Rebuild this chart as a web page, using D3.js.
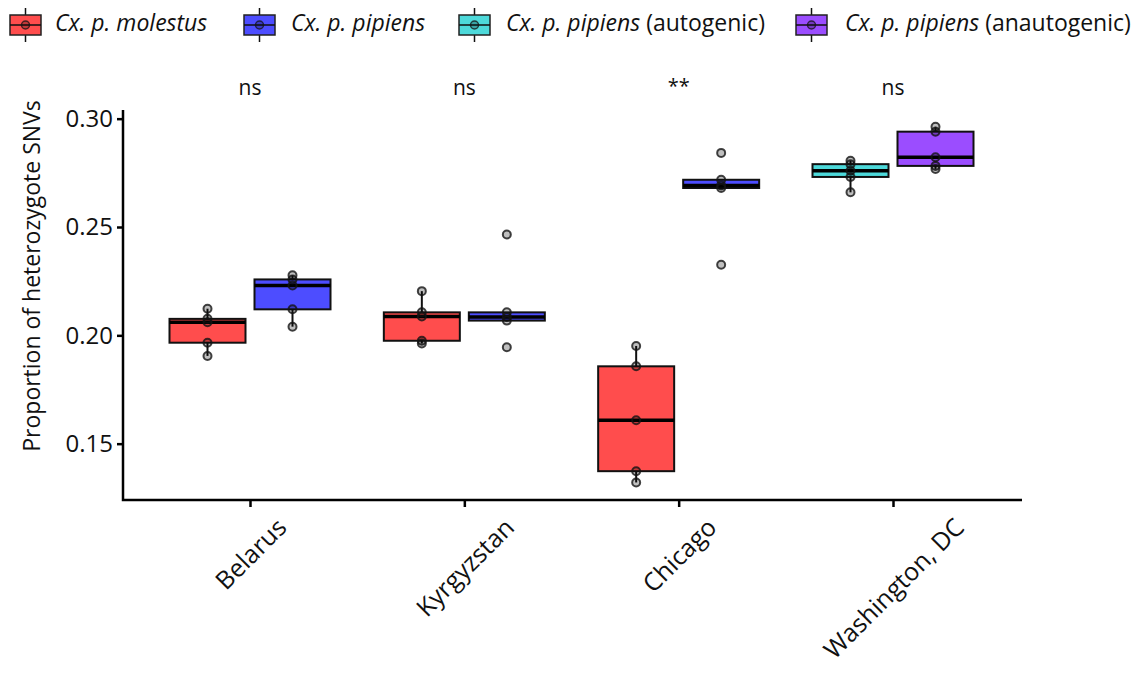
<!DOCTYPE html>
<html>
<head>
<meta charset="utf-8">
<script src="https://cdn.jsdelivr.net/npm/d3@7"></script>
<style>
  body { margin: 0; background: #fff; }
  svg { display: block; font-family: "Open Sans", sans-serif; }
</style>
</head>
<body>
<svg id="chart" width="1138" height="673"></svg>
<script>
// ---- data ----
const categories = ["Belarus", "Kyrgyzstan", "Chicago", "Washington, DC"];
const significance = ["ns", "ns", "**", "ns"];
const yTicks = [0.15, 0.20, 0.25, 0.30];

const belarusMolestus       = [0.2123, 0.2076, 0.2060, 0.1966, 0.1905];
const belarusPipiens        = [0.2277, 0.2258, 0.2230, 0.2120, 0.2040];
const kyrgyzstanMolestus    = [0.2204, 0.2106, 0.2087, 0.1975, 0.1962];
const kyrgyzstanPipiens     = [0.2465, 0.2106, 0.2085, 0.2068, 0.1945];
const chicagoMolestus       = [0.1951, 0.1857, 0.1608, 0.1373, 0.1321];
const chicagoPipiens        = [0.2842, 0.2718, 0.2692, 0.2680, 0.2326];
const washingtonAutogenic   = [0.2806, 0.2790, 0.2760, 0.2731, 0.2660];
const washingtonAnautogenic = [0.2963, 0.2940, 0.2822, 0.2782, 0.2768];

const legendItems = [
  { italic: "Cx. p. molestus", plain: "", color: "#FF4D4D" },
  { italic: "Cx. p. pipiens", plain: "", color: "#4D4DFF" },
  { italic: "Cx. p. pipiens", plain: " (autogenic)", color: "#4DD9DA" },
  { italic: "Cx. p. pipiens", plain: " (anautogenic)", color: "#9B4DFF" }
];

// boxes: category, side (-1 left / +1 right), values, legend index
const boxes = [
  { cat: "Belarus", side: -1, values: belarusMolestus, group: 0 },
  { cat: "Belarus", side: 1, values: belarusPipiens, group: 1 },
  { cat: "Kyrgyzstan", side: -1, values: kyrgyzstanMolestus, group: 0 },
  { cat: "Kyrgyzstan", side: 1, values: kyrgyzstanPipiens, group: 1 },
  { cat: "Chicago", side: -1, values: chicagoMolestus, group: 0 },
  { cat: "Chicago", side: 1, values: chicagoPipiens, group: 1 },
  { cat: "Washington, DC", side: -1, values: washingtonAutogenic, group: 2 },
  { cat: "Washington, DC", side: 1, values: washingtonAnautogenic, group: 3 }
];

// ---- layout ----
const svg = d3.select("#chart");
const axisLeftX = 123, axisBottomY = 500, axisTopY = 110, axisRightX = 1022;
const x = d3.scalePoint().domain(categories).range([250, 893]);
const y = d3.scaleLinear().domain([0.124, 0.304]).range([axisBottomY, axisTopY]);
const dodge = 42.5, boxW = 76;

// stats
boxes.forEach(b => {
  const s = b.values.slice().sort(d3.ascending);
  b.q1 = d3.quantile(s, 0.25);
  b.med = d3.quantile(s, 0.5);
  b.q3 = d3.quantile(s, 0.75);
  const iqr = b.q3 - b.q1;
  b.lo = d3.min(s.filter(v => v >= b.q1 - 1.5 * iqr));
  b.hi = d3.max(s.filter(v => v <= b.q3 + 1.5 * iqr));
  b.cx = x(b.cat) + b.side * dodge;
});

// ---- axes ----
const yAxis = svg.append("g")
  .attr("transform", `translate(${axisLeftX},0)`)
  .call(d3.axisLeft(y).tickValues(yTicks).tickFormat(d3.format(".2f")).tickSize(6).tickPadding(4));
yAxis.select(".domain").remove();
yAxis.selectAll(".tick line").attr("stroke", "#000").attr("stroke-width", 2.5);
yAxis.selectAll(".tick text").attr("font-size", 24).attr("fill", "#111").attr("font-family", "Open Sans");

const xAxis = svg.append("g")
  .attr("transform", `translate(0,${axisBottomY})`)
  .call(d3.axisBottom(x).tickSize(7).tickFormat(""));
xAxis.select(".domain").remove();
xAxis.selectAll(".tick line").attr("stroke", "#000").attr("stroke-width", 2.5);

// axis lines
svg.append("path")
  .attr("d", `M${axisLeftX},${axisTopY}V${axisBottomY}H${axisRightX}`)
  .attr("fill", "none").attr("stroke", "#000").attr("stroke-width", 2.5);

// x labels rotated: bounding box centred under tick, top aligned below axis
const labelTop = axisBottomY + 10;
const xl = svg.append("g").selectAll("g").data(categories).join("g");
xl.append("text")
  .attr("transform", "rotate(-45)")
  .attr("text-anchor", "middle")
  .attr("dy", "0.35em")
  .attr("font-size", 25)
  .attr("fill", "#111")
  .text(d => d);
xl.each(function(d) {
  const bb = this.getBBox();
  const tx = x(d) - (bb.x + bb.width / 2);
  const ty = labelTop - bb.y;
  d3.select(this).attr("transform", `translate(${tx},${ty})`);
});

// y title
svg.append("text")
  .attr("transform", `translate(40,276) rotate(-90)`)
  .attr("text-anchor", "middle")
  .attr("font-size", 23)
  .attr("fill", "#111")
  .text("Proportion of heterozygote SNVs");

// significance labels
svg.append("g").selectAll("text").data(categories).join("text")
  .attr("x", d => x(d))
  .attr("y", (d, i) => significance[i] === "**" ? 93 : 95)
  .attr("text-anchor", "middle")
  .attr("font-size", (d, i) => significance[i] === "**" ? 20 : 21)
  .attr("fill", "#111")
  .text((d, i) => significance[i]);

// ---- boxes ----
const g = svg.append("g");
const bg = g.selectAll("g.box").data(boxes).join("g").attr("class", "box");
bg.append("line")
  .attr("x1", d => d.cx).attr("x2", d => d.cx)
  .attr("y1", d => y(d.q3)).attr("y2", d => y(d.hi))
  .attr("stroke", "#111").attr("stroke-width", 2);
bg.append("line")
  .attr("x1", d => d.cx).attr("x2", d => d.cx)
  .attr("y1", d => y(d.q1)).attr("y2", d => y(d.lo))
  .attr("stroke", "#111").attr("stroke-width", 2);
bg.append("rect")
  .attr("x", d => d.cx - boxW / 2).attr("width", boxW)
  .attr("y", d => y(d.q3)).attr("height", d => y(d.q1) - y(d.q3))
  .attr("fill", d => legendItems[d.group].color)
  .attr("stroke", "#111").attr("stroke-width", 2);
bg.append("line")
  .attr("x1", d => d.cx - boxW / 2).attr("x2", d => d.cx + boxW / 2)
  .attr("y1", d => y(d.med)).attr("y2", d => y(d.med))
  .attr("stroke", "#000").attr("stroke-width", 3.5);
bg.selectAll("circle").data(d => d.values.map(v => ({ v, cx: d.cx }))).join("circle")
  .attr("cx", d => d.cx).attr("cy", d => y(d.v)).attr("r", 4)
  .attr("fill", "rgba(0,0,0,0.25)")
  .attr("stroke", "rgba(20,20,20,0.8)").attr("stroke-width", 2);

// ---- legend ----
const keyX = [10, 244, 459, 796];
const textX = [55, 291, 506, 845];
const lg = svg.append("g").selectAll("g").data(legendItems).join("g")
  .attr("transform", (d, i) => `translate(${keyX[i]},0)`);
lg.append("line").attr("x1", 15.5).attr("x2", 15.5).attr("y1", 8).attr("y2", 42)
  .attr("stroke", "#111").attr("stroke-width", 1.5);
lg.append("rect").attr("x", 0).attr("y", 15).attr("width", 31).attr("height", 20)
  .attr("fill", d => d.color).attr("stroke", "#222").attr("stroke-width", 1.5);
lg.append("line").attr("x1", 0).attr("x2", 31).attr("y1", 25).attr("y2", 25)
  .attr("stroke", "#111").attr("stroke-width", 1.5);
lg.append("circle").attr("cx", 15.5).attr("cy", 25).attr("r", 4)
  .attr("fill", "rgba(0,0,0,0.25)").attr("stroke", "rgba(20,20,20,0.75)").attr("stroke-width", 1.5);
const lt = lg.append("text")
  .attr("x", (d, i) => textX[i] - keyX[i]).attr("y", 31)
  .attr("font-size", 23).attr("fill", "#111");
lt.append("tspan").attr("font-style", "italic").text(d => d.italic);
lt.append("tspan").text(d => d.plain);
</script>
</body>
</html>
